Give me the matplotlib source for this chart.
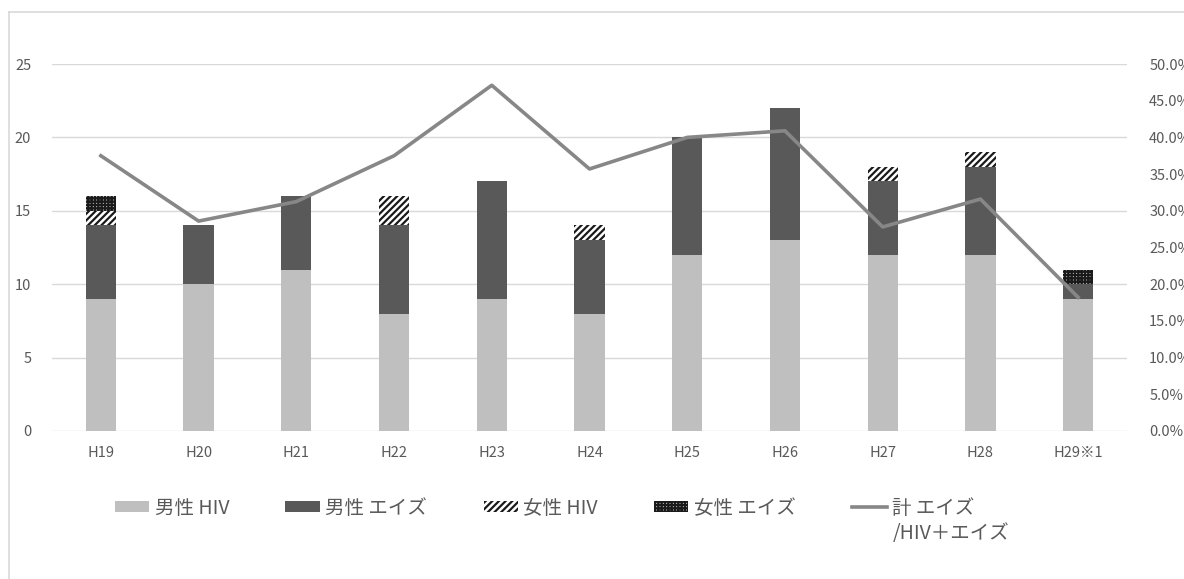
# plot.py
#   HIV / AIDS reported cases, stacked bars + AIDS ratio line

import numpy as np
import matplotlib
matplotlib.use('Agg')
import matplotlib.pyplot as plt
from matplotlib.lines import Line2D
from matplotlib.ticker import FuncFormatter

plt.rcParams['font.family'] = ['Noto Sans CJK JP', 'DejaVu Sans']
plt.rcParams['hatch.linewidth'] = 1.6

# data
years = ['H19', 'H20', 'H21', 'H22', 'H23', 'H24', 'H25', 'H26', 'H27', 'H28', 'H29※1']
male_hiv = [9, 10, 11, 8, 9, 8, 12, 13, 12, 12, 9]
male_aids = [5, 4, 5, 6, 8, 5, 8, 9, 5, 6, 1]
female_hiv = [1, 0, 0, 2, 0, 1, 0, 0, 1, 1, 0]
female_aids = [1, 0, 0, 0, 0, 0, 0, 0, 0, 0, 1]
aids_ratio = [0.375, 0.286, 0.3125, 0.375, 0.471, 0.357, 0.40, 0.409, 0.278, 0.316, 0.182]

labels = ['男性 HIV', '男性 エイズ', '女性 HIV', '女性 エイズ', '計 エイズ']
label_tail = '/HIV＋エイズ'

ink = '#595959'
grid = '#d9d9d9'
W, H = 1184, 579

fig = plt.figure(figsize=(W / 100, H / 100), dpi=100, facecolor='white')
ax = fig.add_axes([52 / W, 1 - 431 / H, (1127 - 52) / W, (431 - 64) / H])

# chart border (Excel chart area, cropped)
fig.add_artist(Line2D([9 / W, 9 / W], [0, 1 - 12 / H], color=grid, lw=1.2))
fig.add_artist(Line2D([9 / W, 1], [1 - 12 / H, 1 - 12 / H], color=grid, lw=1.2))

x = np.arange(len(years))
w = 0.31
b1 = np.array(male_hiv)
b2 = b1 + np.array(male_aids)
b3 = b2 + np.array(female_hiv)

h1 = ax.bar(x, male_hiv, w, color='#bfbfbf', lw=0, zorder=2)
h2 = ax.bar(x, male_aids, w, bottom=b1, color='#595959', lw=0, zorder=2)
h3 = ax.bar(x, female_hiv, w, bottom=b2, facecolor='white', edgecolor='#1a1a1a',
            hatch='/////', lw=0, zorder=2)
h4 = ax.bar(x, female_aids, w, bottom=b3, facecolor='#d0d0d0', edgecolor='#1a1a1a',
            hatch='+++++', lw=0, zorder=2)

ax.set_xlim(-0.5, len(years) - 0.5)
ax.set_ylim(0, 25)
ax.set_yticks(range(0, 26, 5))
ax.set_xticks(x)
ax.set_xticklabels(years)
ax.grid(axis='y', color=grid, lw=1, zorder=0)
ax.set_axisbelow(True)
for s in ax.spines.values():
    s.set_visible(False)
ax.tick_params(axis='both', length=0, colors=ink, labelsize=10.5)
ax.tick_params(axis='y', pad=15)
ax.tick_params(axis='x', pad=11)

ax2 = ax.twinx()
h5, = ax2.plot(x, aids_ratio, color='#878787', lw=2.6, zorder=3)
ax2.set_ylim(0, 0.5)
ax2.set_yticks(np.arange(0, 0.501, 0.05))
ax2.yaxis.set_major_formatter(FuncFormatter(lambda v, p: f'{v * 100:.1f}%'))
for s in ax2.spines.values():
    s.set_visible(False)
ax2.tick_params(axis='y', length=0, colors=ink, labelsize=10.5, pad=16)

leg = fig.legend([h1, h2, h3, h4, h5], labels, loc='center left',
                 bbox_to_anchor=(105 / W, 1 - 508 / H), ncol=5, frameon=False,
                 fontsize=14, handlelength=1.75, handleheight=0.55, handletextpad=0.3,
                 columnspacing=2.9, labelcolor=ink, borderpad=0)

# second line of the last legend label, hung under its first line
fig.canvas.draw()
bb = leg.get_texts()[-1].get_window_extent()
fig.text(bb.x0 / W, (bb.y0 - 4) / H, label_tail, fontsize=14, color=ink,
         ha='left', va='top')

fig.savefig('out.png', dpi=100, facecolor='white')
